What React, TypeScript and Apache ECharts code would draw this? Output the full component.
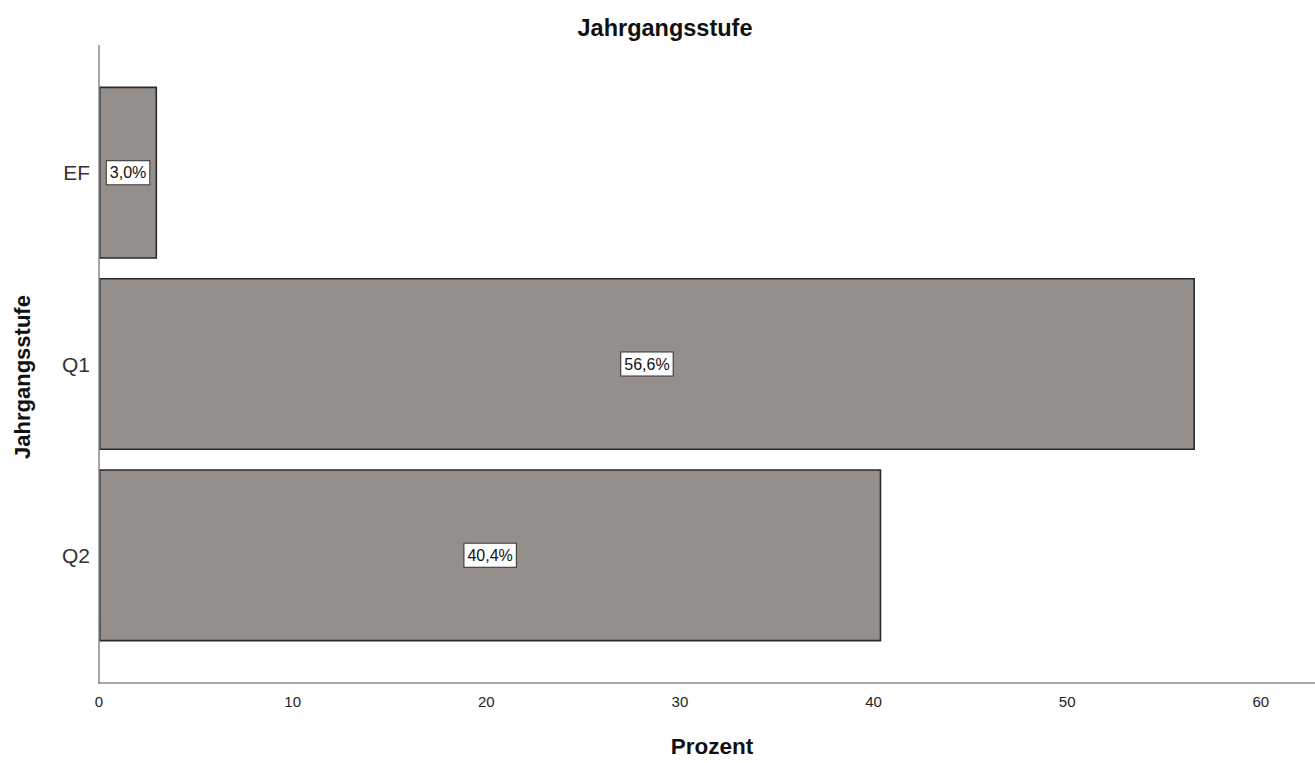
import React, { useEffect, useRef } from "react";
import * as echarts from "echarts";

const categories = ["EF", "Q1", "Q2"];
const percentValues = [3.0, 56.6, 40.4];
const xTickStep = 10;

const FONT = "'Liberation Sans', Arial, sans-serif";

export default function App() {
  const ref = useRef<HTMLDivElement>(null);
  useEffect(() => {
    if (!ref.current) return;
    const chart = echarts.init(ref.current, null, { renderer: "svg" });
    chart.setOption({
      animation: false,
      backgroundColor: "#ffffff",
      title: {
        text: "Jahrgangsstufe",
        left: 660,
        textAlign: "center",
        top: 11,
        textStyle: { fontFamily: FONT, fontSize: 23.5, fontWeight: "bold", color: "#111" },
      },
      grid: { left: 99, top: 77, width: 1216, height: 575, containLabel: false },
      xAxis: {
        type: "value",
        min: 0,
        max: 62.8,
        interval: xTickStep,
        offset: 32,
        name: "Prozent",
        nameLocation: "middle",
        nameGap: 52,
        nameTextStyle: {
          fontFamily: FONT,
          fontSize: 22.5,
          fontWeight: "bold",
          color: "#111",
          padding: [0, 0, 0, 10],
        },
        axisLine: { show: true, lineStyle: { color: "#8a8a8a", width: 1.5 } },
        axisTick: { show: false },
        splitLine: { show: false },
        axisLabel: {
          showMaxLabel: false,
          fontFamily: FONT,
          fontSize: 15,
          color: "#222",
          margin: 11,
        },
      },
      yAxis: {
        type: "category",
        data: categories,
        inverse: true,
        axisLine: { show: false },
        axisTick: { show: false },
        axisLabel: { fontFamily: FONT, fontSize: 21, color: "#333", margin: 9 },
      },
      graphic: [
        {
          type: "line",
          shape: { x1: 99, y1: 45, x2: 99, y2: 684 },
          style: { stroke: "#8a8a8a", lineWidth: 1.5 },
          z: 10,
        },
        {
          type: "text",
          x: 22,
          y: 377,
          rotation: Math.PI / 2,
          style: {
            text: "Jahrgangsstufe",
            fontFamily: FONT,
            fontSize: 22,
            fontWeight: "bold",
            fill: "#111",
            align: "center",
            verticalAlign: "middle",
          },
        },
      ],
      series: [
        {
          type: "bar",
          data: percentValues,
          barCategoryGap: "10%",
          itemStyle: { color: "#958f8c", borderColor: "#2a2a2a", borderWidth: 1.6 },
          label: {
            show: true,
            position: "inside",
            formatter: (p: any) => p.value.toFixed(1).replace(".", ",") + "%",
            fontFamily: FONT,
            fontSize: 16,
            color: "#111",
            backgroundColor: "#ffffff",
            borderColor: "#333",
            borderWidth: 1,
            padding: [4, 3, 3, 3],
          },
        },
      ],
    });
    return () => chart.dispose();
  }, []);
  return (
    <div
      ref={ref}
      style={{ position: "fixed", left: 0, top: 0, width: 1315, height: 763 }}
    />
  );
}
